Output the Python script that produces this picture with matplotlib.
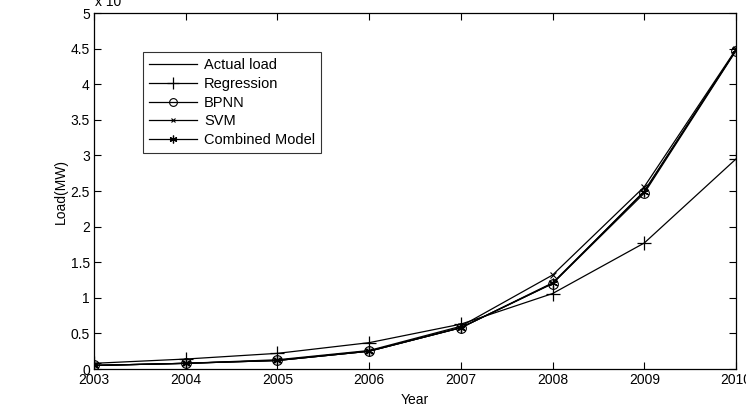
import matplotlib
matplotlib.use("Agg")
import matplotlib.pyplot as plt

plt.rcParams['font.family'] = ['Liberation Sans', 'DejaVu Sans']

years = [2003, 2004, 2005, 2006, 2007, 2008, 2009, 2010]
actual = [0.05, 0.08, 0.12, 0.25, 0.58, 1.20, 2.50, 4.48]
regression = [0.08, 0.14, 0.22, 0.37, 0.63, 1.06, 1.77, 2.95]
bpnn = [0.05, 0.08, 0.12, 0.25, 0.58, 1.20, 2.47, 4.47]
svm = [0.05, 0.08, 0.13, 0.26, 0.60, 1.32, 2.56, 4.49]
combined = [0.05, 0.08, 0.12, 0.25, 0.58, 1.21, 2.49, 4.48]

fs = 10

fig = plt.figure(figsize=(7.46, 4.2), dpi=100)
ax = fig.add_axes([0.126, 0.1214, 0.8606, 0.8476])

lw = 0.9
ax.plot(years, actual, '-', color='k', lw=lw, label='Actual load')
ax.plot(years, regression, '-+', color='k', lw=lw, ms=10, mew=0.9, label='Regression')
ax.plot(years, bpnn, '-o', color='k', lw=lw, ms=7, mfc='none', mew=0.8, label='BPNN')
ax.plot(years, svm, '-x', color='k', lw=lw, ms=4, mew=0.8, label='SVM')
ax.plot(years, combined, '-', marker=(6, 2, 0), color='k', lw=lw, ms=7, mew=0.9,
        label='Combined Model')

ax.set_xlim(2003, 2010)
ax.set_ylim(0, 5)
ax.set_xticks(years)
ax.set_yticks([0, 0.5, 1, 1.5, 2, 2.5, 3, 3.5, 4, 4.5, 5])
ax.set_yticklabels(['0', '0.5', '1', '1.5', '2', '2.5', '3', '3.5', '4', '4.5', '5'])
ax.tick_params(direction='in', top=True, right=True, length=5, width=0.8,
               labelsize=fs, pad=3)
for s in ax.spines.values():
    s.set_linewidth(0.9)

ax.set_xlabel('Year', fontsize=fs, labelpad=4)
ax.set_ylabel('Load(MW)', fontsize=fs, labelpad=2)

fig.text(0.127, 0.996, 'x 10', fontsize=fs, ha='left', va='center')

leg = ax.legend(loc='upper left', bbox_to_anchor=(0.076, 0.89), fontsize=10.5,
                frameon=True, fancybox=False, edgecolor='k', handlelength=3.3,
                borderpad=0.4, labelspacing=0.33, handletextpad=0.5,
                borderaxespad=0, markerscale=0.8)
leg.get_frame().set_linewidth(0.8)

fig.savefig('out.png', dpi=100)
